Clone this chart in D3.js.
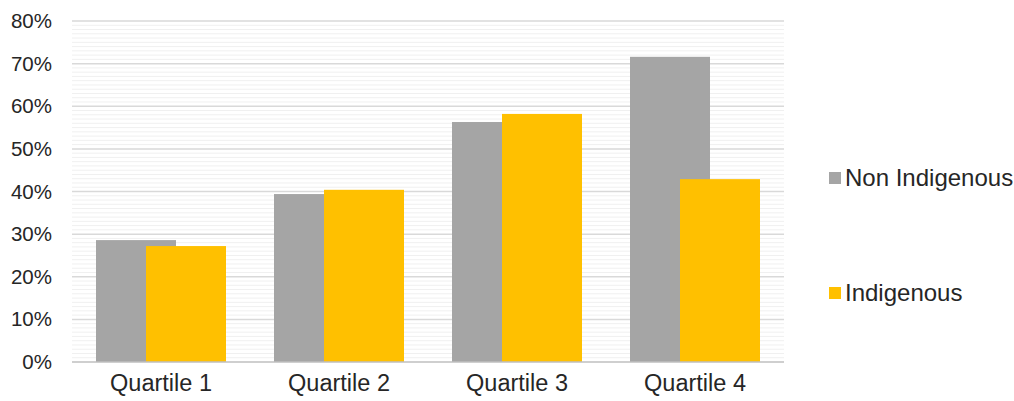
<!DOCTYPE html><html><head><script src="https://cdn.jsdelivr.net/npm/d3@7"></script>
<style>body{margin:0;background:#fff}text{font-family:"Liberation Sans",Arial,sans-serif}</style></head><body>
<svg width="1014" height="401"></svg>
<script>
const categories=["Quartile 1","Quartile 2","Quartile 3","Quartile 4"];
const seriesNames=["Non Indigenous","Indigenous"];
const nonIndigenous=[0.286,0.394,0.563,0.716];
const indigenous=[0.272,0.404,0.582,0.429];
const colors=["#a5a5a5","#ffc000"];
const txt="#262626";
const svg=d3.select("svg");
const L=72,R=784,T=21,B=362;
const y=d3.scaleLinear().domain([0,0.8]).range([B,T]);
const x=d3.scaleBand().domain(categories).range([L,R]);
const g=svg.append("g");
d3.range(0,81).forEach(i=>{const major=i%10===0;if(i===0)return;
g.append("line").attr("x1",L).attr("x2",R).attr("y1",y(i/100)).attr("y2",y(i/100))
.attr("stroke",major?"#d9d9d9":"#f0f0f0").attr("stroke-width",major?1.5:1);});
const bw=80,off=[-65,-15];
[nonIndigenous,indigenous].forEach((s,k)=>{
g.selectAll(null).data(s).enter().append("rect")
.attr("x",(d,i)=>x(categories[i])+x.bandwidth()/2+off[k]).attr("width",bw)
.attr("y",d=>y(d)).attr("height",d=>B-y(d)).attr("fill",colors[k]);});
g.append("line").attr("x1",L).attr("x2",R).attr("y1",B).attr("y2",B).attr("stroke","#bfbfbf").attr("stroke-width",1.5);
const ya=svg.append("g").attr("transform",`translate(${L},0)`).call(d3.axisLeft(y).tickValues(d3.range(0,0.81,0.1)).tickFormat(d3.format(".0%")).tickSize(0).tickPadding(20));
ya.select(".domain").remove();ya.selectAll("text").style("font-size","20.5px").attr("fill",txt);
const xa=svg.append("g").attr("transform",`translate(0,${B})`).call(d3.axisBottom(x).tickSize(0).tickPadding(12));
xa.select(".domain").remove();xa.selectAll("text").style("font-size","23.5px").attr("fill",txt);
seriesNames.forEach((n,k)=>{const yy=[178,293][k];
svg.append("rect").attr("x",829).attr("y",yy-6).attr("width",12).attr("height",12).attr("fill",colors[k]);
svg.append("text").attr("x",845).attr("y",yy+8).style("font-size",  "24px").attr("fill",txt).text(n);});
</script></body></html>
